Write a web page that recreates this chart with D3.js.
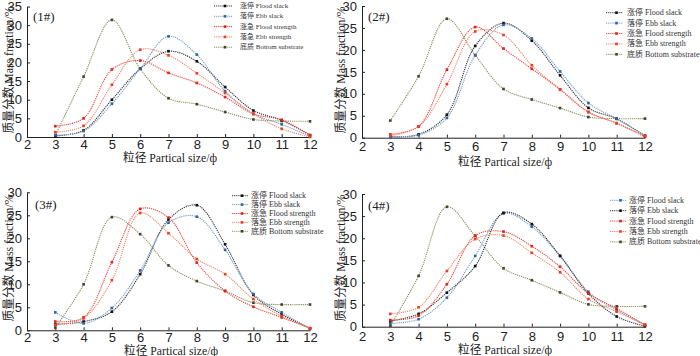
<!DOCTYPE html>
<html>
<head>
<meta charset="utf-8">
<script src="https://cdn.jsdelivr.net/npm/d3@7"></script>
<style>
  html, body { margin: 0; padding: 0; background: #fff; }
  svg { display: block; font-family: "Liberation Serif", "Noto Sans CJK SC", serif; }
  .axis text { font-size: 13px; fill: #222; }
  .axis path, .axis line { stroke: #222; }
</style>
</head>
<body>
<div id="chart"></div>
<script>
// 粒径 (phi) sampled at each station
const sizes  = [3, 4, 5, 6, 7, 8, 9, 10, 11, 12];
const xTicks = [2, 3, 4, 5, 6, 7, 8, 9, 10, 11, 12];
const seriesNames = ["涨停 Flood slack", "落停 Ebb slack", "涨急 Flood strength", "落急 Ebb strength", "底质 Bottom substrate"];
const stations = ["(1#)", "(2#)", "(3#)", "(4#)"];

// station 1#
const st1FloodSlack    = [0.3, 1.8, 10.0, 18.3, 23.0, 20.3, 13.4, 7.1, 4.5, 0.5];
const st1EbbSlack      = [0.5, 1.6, 8.9, 18.3, 27.0, 22.1, 12.3, 6.2, 3.4, 0.2];
const st1FloodStrength = [2.9, 5.0, 18.1, 20.5, 17.2, 14.5, 10.7, 6.2, 4.6, 0.5];
const st1EbbStrength   = [1.3, 3.0, 14.0, 23.4, 21.9, 17.1, 11.8, 6.2, 2.2, 0.0];
const st1Bottom        = [0.4, 16.2, 31.4, 18.3, 10.4, 8.8, 6.7, 4.7, 4.3, 4.2];
// station 2#
const st2FloodSlack    = [0.2, 0.75, 5.25, 20.9, 26.1, 22.1, 14.2, 6.8, 4.3, 0.45];
const st2EbbSlack      = [0.2, 0.6, 4.5, 18.8, 25.7, 22.6, 15.1, 7.9, 4.3, 0.4];
const st2FloodStrength = [0.75, 2.6, 15.5, 25.2, 20.3, 15.7, 11.0, 5.85, 3.3, 0.2];
const st2EbbStrength   = [0.5, 2.5, 12.2, 24.2, 23.4, 16.5, 11.0, 5.85, 3.3, 0.4];
const st2Bottom        = [3.9, 14.0, 27.1, 18.8, 11.1, 8.7, 6.75, 4.7, 4.35, 4.35];
// station 3#
const st3FloodSlack    = [1.3, 1.9, 4.05, 12.2, 24.1, 27.2, 18.7, 7.7, 3.5, 0.45];
const st3EbbSlack      = [3.9, 1.5, 4.85, 13.0, 23.4, 24.7, 17.5, 7.9, 3.9, 0.45];
const st3FloodStrength = [1.9, 2.8, 14.8, 26.4, 24.5, 14.7, 8.55, 5.1, 2.8, 0.45];
const st3EbbStrength   = [1.2, 2.6, 10.9, 25.5, 21.1, 15.5, 12.2, 6.8, 3.1, 0.45];
const st3Bottom        = [0.6, 10.0, 24.6, 20.9, 14.1, 10.7, 8.55, 6.0, 5.6, 5.6];
// station 4#
const st4FloodSlack    = [0.75, 1.7, 6.55, 16.0, 25.6, 22.6, 16.0, 7.9, 3.8, 0.4];
const st4EbbSlack      = [1.3, 2.9, 7.7, 13.7, 25.75, 23.2, 16.0, 7.5, 2.3, 0.1];
const st4FloodStrength = [1.5, 2.5, 9.6, 20.6, 21.5, 18.2, 13.55, 7.5, 4.1, 0.4];
const st4EbbStrength   = [2.9, 4.4, 12.6, 19.8, 20.6, 16.7, 12.3, 6.25, 3.4, 0.4];
const st4Bottom        = [0.2, 11.5, 27.1, 20.5, 13.2, 10.5, 7.75, 5.05, 4.6, 4.6];

const yMaxes = [35, 30, 30, 30];

const stationData = [
  [st1FloodSlack, st1EbbSlack, st1FloodStrength, st1EbbStrength, st1Bottom],
  [st2FloodSlack, st2EbbSlack, st2FloodStrength, st2EbbStrength, st2Bottom],
  [st3FloodSlack, st3EbbSlack, st3FloodStrength, st3EbbStrength, st3Bottom],
  [st4FloodSlack, st4EbbSlack, st4FloodStrength, st4EbbStrength, st4Bottom]
];

// styles
const BLACK = { line: "#333", mark: "#111" };
const BLUE  = { line: "#6e9cc6", mark: "#2f6599" };
const RED   = { line: "#e8453a", mark: "#e0231b" };
const ORNG  = { line: "#f2846a", mark: "#ee3d25" };
const OLIVE = { line: "#8c8c5e", mark: "#45452a" };
const palettes = [
  [BLACK, BLUE, RED, ORNG, OLIVE],
  [BLACK, BLUE, RED, ORNG, OLIVE],
  [BLACK, BLUE, RED, ORNG, OLIVE],
  [BLUE, BLACK, RED, ORNG, OLIVE]
];

// panel frames (pixel layout)
const frames = [
  { x0: 27,  x1: 310, yb: 137,   yt: 6.5,   pad: 3, tag: [33, 21],   ylab: [9, 70],    xlab: [170, 162],
    leg: { l0: 214, l1: 232, tx: 240, y0: 6,     dy: 10.3, fs: 7 } },
  { x0: 362, x1: 645, yb: 137.7, yt: 6,     pad: 4, tag: [368, 21],  ylab: [341, 70],  xlab: [505, 165.5],
    leg: { l0: 606, l1: 623, tx: 627, y0: 12.7,  dy: 10.4, fs: 8 } },
  { x0: 27,  x1: 310, yb: 330.3, yt: 192.3, pad: 2, tag: [35, 209],  ylab: [9, 258],   xlab: [171, 354.5],
    leg: { l0: 232, l1: 248, tx: 251, y0: 195.7, dy: 8.9,  fs: 8 } },
  { x0: 362, x1: 645, yb: 326.7, yt: 194,   pad: 5, tag: [368, 210], ylab: [341, 258], xlab: [505, 354],
    leg: { l0: 610, l1: 627, tx: 629, y0: 200.3, dy: 10.4, fs: 8 } }
];

const W = 700, H = 356;
const svg = d3.select("#chart").append("svg")
  .attr("width", W).attr("height", H)
  .attr("viewBox", [0, 0, W, H]);

const sym = d3.symbol().type(d3.symbolSquare).size(7);

frames.forEach((f, i) => {
  const x = d3.scaleLinear().domain([2, 12]).range([f.x0, f.x1]);
  const y = d3.scaleLinear().domain([0, yMaxes[i]]).range([f.yb, f.yt]);
  const g = svg.append("g");

  // axes
  g.append("g")
    .attr("class", "axis")
    .attr("transform", `translate(0,${f.yb})`)
    .call(d3.axisBottom(x).tickValues(xTicks).tickSize(-3).tickPadding(f.pad).tickSizeOuter(0));

  g.append("g")
    .attr("class", "axis")
    .attr("transform", `translate(${f.x0},0)`)
    .call(d3.axisLeft(y).ticks(yMaxes[i] / 5).tickSize(-3).tickPadding(5).tickSizeOuter(0));

  // curves
  const line = d3.line()
    .x((d, k) => x(sizes[k]))
    .y(d => y(d))
    .curve(d3.curveCatmullRom.alpha(0.5));

  // bottom substrate underneath
  const order = [4, 0, 1, 2, 3];
  order.forEach(s => {
    const vals = stationData[i][s];
    const c = palettes[i][s];
    g.append("path")
      .attr("d", line(vals))
      .attr("fill", "none")
      .attr("stroke", c.line)
      .attr("stroke-width", 1.1)
      .attr("stroke-dasharray", "1.2,0.9");
    g.selectAll(null)
      .data(vals)
      .join("path")
      .attr("transform", (d, k) => `translate(${x(sizes[k])},${y(d)})`)
      .attr("d", sym)
      .attr("fill", c.mark);
  });

  // station tag
  g.append("text")
    .attr("x", f.tag[0]).attr("y", f.tag[1])
    .attr("font-size", 13).attr("fill", "#222")
    .text(stations[i]);

  // axis titles
  g.append("text")
    .attr("transform", `translate(${f.ylab[0]},${f.ylab[1]}) rotate(-90)`)
    .attr("text-anchor", "middle")
    .attr("dominant-baseline", "central")
    .attr("font-size", 12).attr("fill", "#222")
    .attr("textLength", 127).attr("lengthAdjust", "spacingAndGlyphs")
    .text("质量分数 Mass fraction/%");

  g.append("text")
    .attr("x", f.xlab[0]).attr("y", f.xlab[1])
    .attr("text-anchor", "middle")
    .attr("font-size", 12).attr("fill", "#222")
    .attr("textLength", 94).attr("lengthAdjust", "spacingAndGlyphs")
    .text("粒径 Partical size/ф");

  // legend
  const L = f.leg;
  seriesNames.forEach((name, s) => {
    const c = palettes[i][s];
    const yy = L.y0 + s * L.dy;
    g.append("line")
      .attr("x1", L.l0).attr("x2", L.l1)
      .attr("y1", yy).attr("y2", yy)
      .attr("stroke", c.line).attr("stroke-width", 1)
      .attr("stroke-dasharray", "1.2,0.9");
    g.append("path")
      .attr("transform", `translate(${(L.l0 + L.l1) / 2 + 2},${yy})`)
      .attr("d", sym)
      .attr("fill", c.mark);
    g.append("text")
      .attr("x", L.tx).attr("y", yy)
      .attr("dominant-baseline", "central")
      .attr("font-size", L.fs).attr("fill", "#333")
      .text(name);
  });
});
</script>
</body>
</html>
